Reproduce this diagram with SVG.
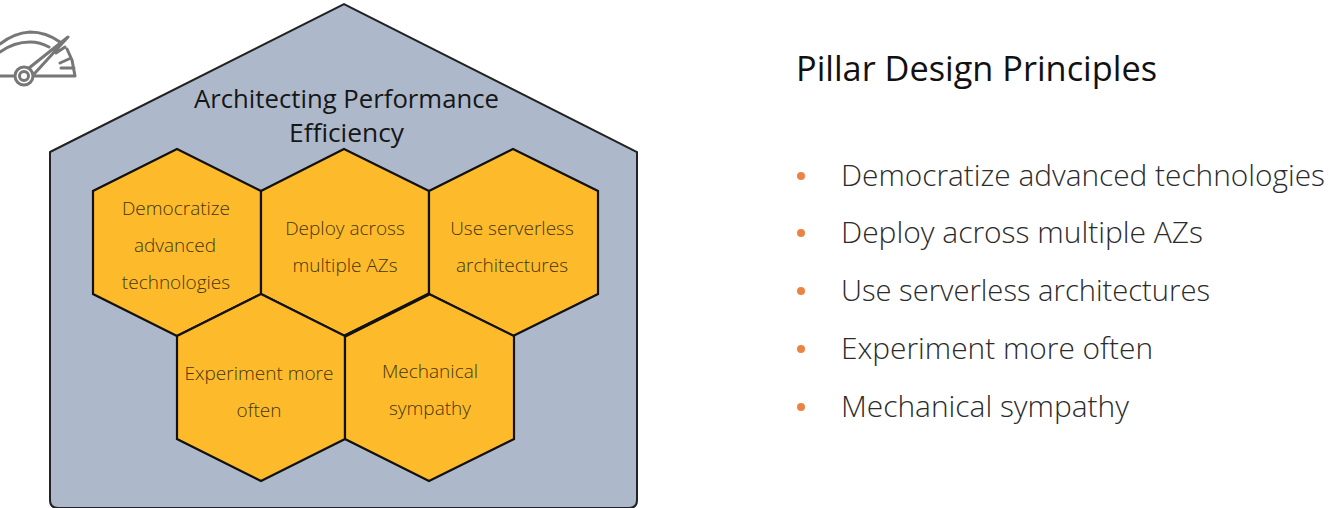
<svg xmlns="http://www.w3.org/2000/svg" width="1336" height="508" viewBox="0 0 1336 508">
<defs><filter id="soft" x="-10%" y="-10%" width="120%" height="120%"><feGaussianBlur stdDeviation="0.6"/></filter></defs>
<style>
text{font-family:"Open Sans","Noto Sans","Liberation Sans",sans-serif}
.h{fill:#fdbb2b;stroke:#111;stroke-width:2.2;stroke-linejoin:miter}
.t{font-size:19px;fill:#45360f;text-anchor:middle;font-weight:300}
.b{font-size:29px;fill:#2b2b2b;font-weight:300}
.d{fill:#ec8344}
.i{fill:none;stroke:#777;stroke-width:3;stroke-linejoin:round;stroke-linecap:round}
</style>
<rect width="1336" height="508" fill="#fff"/>
<g id="house"><path d="M50 152L344 4L637 152V500Q637 508 629 508H58Q50 508 50 500Z" fill="#adb9cb" stroke="#222" stroke-width="2"/>
<text x="346.500" y="108" font-size="25" fill="#161616" text-anchor="middle" textLength="305" lengthAdjust="spacingAndGlyphs">Architecting Performance</text>
<text x="346.500" y="142" font-size="25" fill="#161616" text-anchor="middle" textLength="115" lengthAdjust="spacingAndGlyphs">Efficiency</text></g>
<g id="gauge" filter="url(#soft)"><path class="i" d="M0 44Q14 33 30 32Q46 32 60 42M0 52Q14 42 30 42Q40 42 49 47M0 76H15M33 76H75L72 60L67 49M15 76A9 9 0 1 0 33 76A9 9 0 1 0 15 76M29 68L68 37L35 73M56 53L65 47M60 63L71 58M61 68H74"/><circle class="i" cx="24" cy="76" r="4.500"/></g>
<g id="hex1"><polygon class="h" points="177,149 261,191 261,294 177,336 93,294 93,191"/><text class="t" x="176" y="215">Democratize</text><text class="t" x="175" y="252">advanced</text><text class="t" x="176" y="289">technologies</text></g>
<g id="hex2"><polygon class="h" points="344,149 429,191 429,294 344,336 261,294 261,191"/><text class="t" x="345" y="235">Deploy across</text><text class="t" x="345" y="272">multiple AZs</text></g>
<g id="hex3"><polygon class="h" points="513,149 598,191 598,294 513,336 429,294 429,191"/><text class="t" x="512" y="235">Use serverless</text><text class="t" x="512" y="272">architectures</text></g>
<g id="hex4"><polygon class="h" points="261,294 345,336 345,439 261,481 177,439 177,336"/><text class="t" x="259" y="380">Experiment more</text><text class="t" x="259" y="417">often</text></g>
<g id="hex5"><polygon class="h" points="429,294 514,336 514,439 429,481 345,439 345,336"/><path d="M345 336L429 294" stroke="#111" stroke-width="3.500" fill="none"/><text class="t" x="430" y="378">Mechanical</text><text class="t" x="430" y="415">sympathy</text></g>
<g id="connectors"/>
<g id="principles"><text x="796" y="81" font-size="34" fill="#111" textLength="361" lengthAdjust="spacingAndGlyphs">Pillar Design Principles</text>
<circle class="d" cx="801" cy="176" r="4"/><text class="b" x="841" y="186" textLength="484" lengthAdjust="spacingAndGlyphs">Democratize advanced technologies</text>
<circle class="d" cx="801" cy="233" r="4"/><text class="b" x="841" y="243" textLength="362" lengthAdjust="spacingAndGlyphs">Deploy across multiple AZs</text>
<circle class="d" cx="801" cy="291" r="4"/><text class="b" x="841" y="301" textLength="369" lengthAdjust="spacingAndGlyphs">Use serverless architectures</text>
<circle class="d" cx="801" cy="349" r="4"/><text class="b" x="841" y="359" textLength="312" lengthAdjust="spacingAndGlyphs">Experiment more often</text>
<circle class="d" cx="801" cy="407" r="4"/><text class="b" x="841" y="417" textLength="288" lengthAdjust="spacingAndGlyphs">Mechanical sympathy</text></g>
</svg>
